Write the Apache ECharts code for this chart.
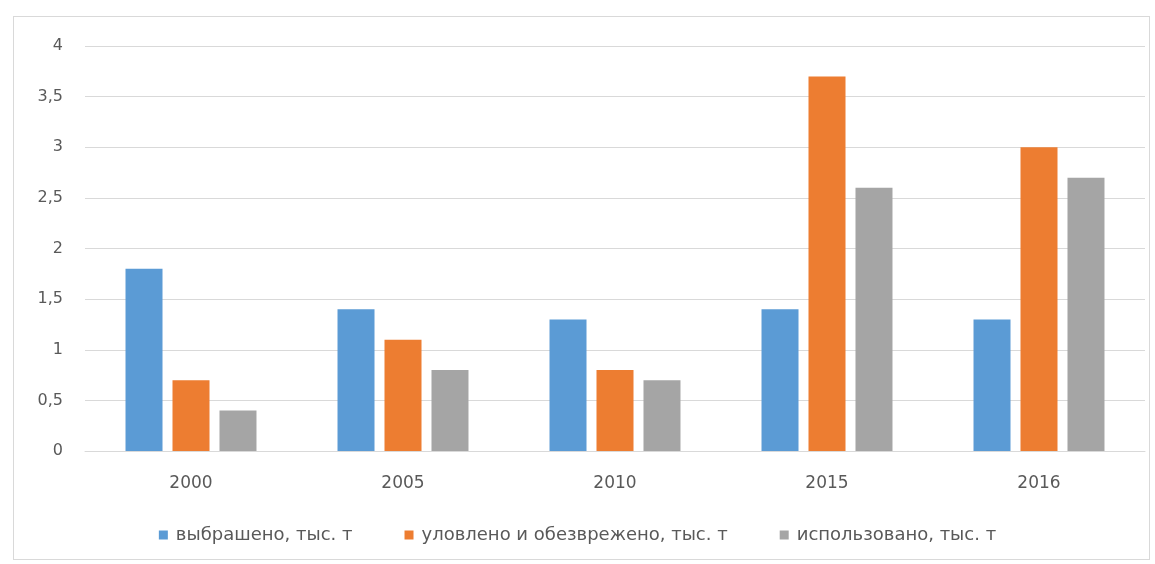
<!DOCTYPE html>
<html><head><meta charset="utf-8">
<script src="https://cdn.jsdelivr.net/npm/echarts@6/dist/echarts.min.js"></script>
<style>html,body{margin:0;padding:0;background:#fff}#c{width:1155px;height:564px}
#frame{position:absolute;left:13px;top:16px;width:1137px;height:544px;border:1px solid #d9d9d9;box-sizing:border-box;pointer-events:none}</style>
</head><body><div id="c"></div><div id="frame"></div>
<script>
const categories = ['2000','2005','2010','2015','2016'];
const seriesNames = ['выбрашено, тыс. т','уловлено и обезврежено, тыс. т','использовано, тыс. т'];
const vybrosheno = [1.8, 1.4, 1.3, 1.4, 1.3];
const ulovleno = [0.7, 1.1, 0.8, 3.7, 3.0];
const ispolzovano = [0.4, 0.8, 0.7, 2.6, 2.7];
const colors = ['#5B9BD5','#ED7D31','#A5A5A5'];
const FONT = 'DejaVu Sans, sans-serif';
const chart = echarts.init(document.getElementById('c'));
const mk = (name, data, color) => ({name, type:'bar', data, itemStyle:{color}, barWidth:37, barGap:'27%'});
chart.setOption({
  animation:false,
  grid:{left:85, right:10, top:46, bottom:113, containLabel:false},
  legend:{bottom:15, left:'center', itemWidth:9, itemHeight:9, itemGap:52, icon:'rect',
    textStyle:{fontSize:18, color:'#595959', fontFamily:FONT, padding:[0,0,0,3]}},
  xAxis:{type:'category', data:categories,
    axisLine:{lineStyle:{color:'#d9d9d9'}}, axisTick:{show:false},
    axisLabel:{fontSize:17, color:'#595959', margin:24, fontFamily:FONT}},
  yAxis:{type:'value', min:0, max:4, interval:0.5,
    axisLine:{show:false}, axisTick:{show:false},
    splitLine:{lineStyle:{color:'#d9d9d9', width:1}},
    axisLabel:{fontSize:16, color:'#595959', margin:22, fontFamily:FONT,
      formatter:v => String(v).replace('.', ',')}},
  series:[mk(seriesNames[0], vybrosheno, colors[0]), mk(seriesNames[1], ulovleno, colors[1]), mk(seriesNames[2], ispolzovano, colors[2])]
});
</script></body></html>
